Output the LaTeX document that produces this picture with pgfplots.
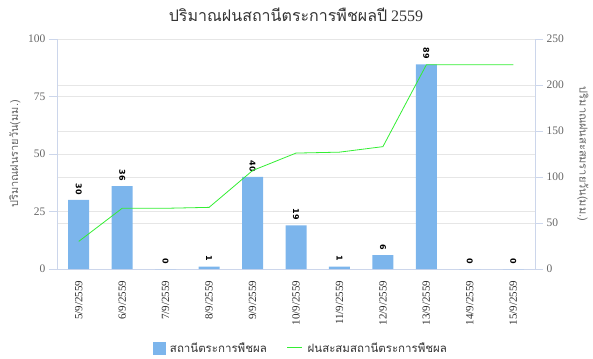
\documentclass[border=0pt]{standalone}
\usepackage{fontspec}
\setmainfont{Liberation Serif}
\newfontfamily\thaifont[Script=Thai]{Loma}
\newfontfamily\labfont{DejaVu Sans}
\usepackage{pgfplots}
\pgfplotsset{compat=1.18}
\definecolor{barblue}{HTML}{7CB5EC}
\definecolor{linegreen}{HTML}{33EE33}
\definecolor{gridc}{HTML}{E6E6E6}
\definecolor{axisc}{HTML}{CCD6EB}
\definecolor{tickc}{HTML}{666666}
\definecolor{textc}{HTML}{333333}
\pgfplotsset{
  base/.style={
    at={(0pt,0pt)}, anchor=south west, scale only axis,
    width=478pt, height=230pt,
    xmin=-0.5, xmax=10.5,
    /pgf/number format/assume math mode=true,
    axis line style={axisc, line width=0.8pt},
    grid style={gridc, line width=0.8pt},
    tick align=outside,
    major tick length=8pt,
    yticklabel style={font=\fontsize{11.5}{11.5}\selectfont, text=tickc},
  }
}
\begin{document}
\begin{tikzpicture}
\node[font=\fontsize{16}{16}\selectfont, text=textc] at (239pt,254pt) {{\thaifont ปริมาณฝนสถานีตระการพืชผลปี} 2559};
% right axis: grid + ticks
\begin{axis}[base,
  ymin=0, ymax=250,
  axis y line*=right, axis x line=none,
  ytick={0,50,...,250},
  ymajorgrids,
  ytick style={axisc, line width=0.8pt},
  ylabel={\thaifont ปริมาณฝนสะสมรายวัน(มม.)},
  ylabel style={at={(axis description cs:1.100,0.5)}, anchor=center, rotate=180, font=\fontsize{11}{11}\selectfont, text=tickc},
]
\addplot[draw=none] coordinates {(0,0)};
\end{axis}
% left axis with bars
\begin{axis}[base,
  ymin=0, ymax=100,
  axis y line*=left, axis x line*=bottom,
  ytick={0,25,50,75,100},
  ymajorgrids,
  ytick style={axisc, line width=0.8pt},
  xtick={0,...,10},
  xticklabels={5/9/2559,6/9/2559,7/9/2559,8/9/2559,9/9/2559,10/9/2559,11/9/2559,12/9/2559,13/9/2559,14/9/2559,15/9/2559},
  xtick style={draw=none},
  extra x ticks={-0.5,0.5,...,10.5},
  extra x tick labels={},
  extra x tick style={major tick length=7pt, tick style={axisc, line width=0.8pt}},
  xticklabel style={rotate=90, anchor=east, font=\fontsize{11}{11}\selectfont, text=textc!85!black},
  ylabel={\thaifont ปริมาณฝนรายวัน(มม.)},
  ylabel style={at={(axis description cs:-0.088,0.5)}, anchor=center, font=\fontsize{11}{11}\selectfont, text=tickc},
  ybar, bar width=21pt,
  nodes near coords={\labfont\bfseries\pgfmathprintnumber[assume math mode=true]{\pgfplotspointmeta}},
  every node near coord/.append style={font=\labfont\bfseries\fontsize{8}{8}\selectfont, rotate=-90, anchor=east, inner sep=5pt, text=black},
]
\addplot[fill=barblue, draw=none] coordinates {(0,30) (1,36) (2,0) (3,1) (4,40) (5,19) (6,1) (7,6) (8,89) (9,0) (10,0)};
\end{axis}
% line axis
\begin{axis}[base,
  ymin=0, ymax=250,
  hide axis,
  legend style={at={(axis description cs:0.51,-0.343)}, anchor=center, draw=none, fill=none, font=\thaifont\fontsize{11.5}{11.5}\selectfont, text=textc, legend columns=2, /tikz/every even column/.append style={column sep=18pt}, /tikz/every odd column/.append style={column sep=3pt}},
]
\addlegendimage{legend image code/.code={\fill[barblue] (0pt,-6pt) rectangle (12pt,6pt);}}
\addlegendentry{สถานีตระการพืชผล}
\addplot[linegreen, line width=0.8pt, legend image code/.code={\draw[linegreen, line width=0.8pt] (0pt,0pt) -- (15pt,0pt);}] coordinates {(0,30) (1,66) (2,66) (3,67) (4,107) (5,126) (6,127) (7,133) (8,222) (9,222) (10,222)};
\addlegendentry{ฝนสะสมสถานีตระการพืชผล}
\end{axis}
\path (-57pt,-89pt) rectangle (536pt,269pt);
\end{tikzpicture}
\end{document}
